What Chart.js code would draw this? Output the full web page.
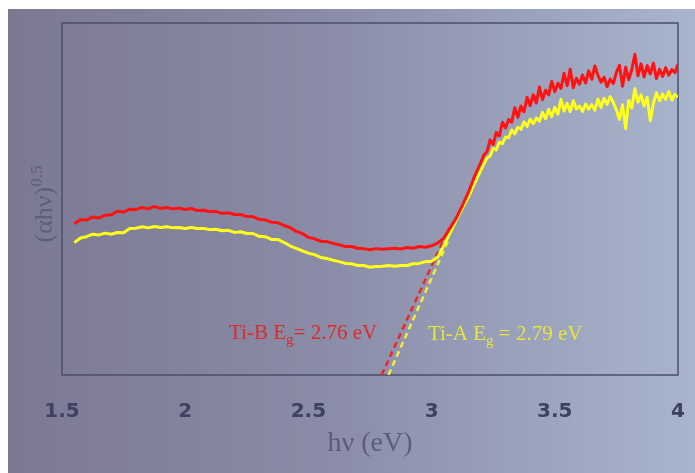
<!DOCTYPE html>
<html>
<head>
<meta charset="utf-8">
<script src="https://cdn.jsdelivr.net/npm/chart.js@4.4.1/dist/chart.umd.min.js"></script>
<style>
  html, body { margin: 0; padding: 0; background: #ffffff; }
  #quadro {
    position: absolute; left: 8px; top: 9px; width: 687px; height: 464px;
    background: linear-gradient(to right, #7b7892 0%, #8a8ba6 45%, #a8b5cd 100%);
  }
</style>
</head>
<body>
<div id="quadro"><canvas id="grafico"></canvas></div>
<script>
// energia (eV)
const energia = [
  1.55, 1.575, 1.6, 1.625, 1.65, 1.675, 1.7, 1.725, 1.75, 1.775,
  1.8, 1.825, 1.85, 1.875, 1.9, 1.925, 1.95, 1.975, 2, 2.025,
  2.05, 2.075, 2.1, 2.125, 2.15, 2.175, 2.2, 2.225, 2.25, 2.275,
  2.3, 2.325, 2.35, 2.375, 2.4, 2.425, 2.45, 2.475, 2.5, 2.525,
  2.55, 2.575, 2.6, 2.625, 2.65, 2.675, 2.7, 2.725, 2.75, 2.775,
  2.8, 2.825, 2.85, 2.875, 2.9, 2.925, 2.95, 2.975, 3, 3.025,
  3.05, 3.075, 3.1, 3.125, 3.15, 3.175, 3.2,
  3.2125, 3.225, 3.2375, 3.25, 3.2625, 3.275, 3.2875, 3.3,
  3.3125, 3.325, 3.3375, 3.35, 3.3625, 3.375, 3.3875, 3.4,
  3.4125, 3.425, 3.4375, 3.45, 3.4625, 3.475, 3.4875, 3.5,
  3.5125, 3.525, 3.5375, 3.55, 3.5625, 3.575, 3.5875, 3.6,
  3.6125, 3.625, 3.6375, 3.65, 3.6625, 3.675, 3.6875, 3.7,
  3.7125, 3.725, 3.7375, 3.75, 3.7625, 3.775, 3.7875, 3.8,
  3.8125, 3.825, 3.8375, 3.85, 3.8625, 3.875, 3.8875, 3.9,
  3.9125, 3.925, 3.9375, 3.95, 3.9625, 3.975, 3.9875, 4
];

// Ti-B (vermelho)
const tiB = [
  43.0, 44.2, 44.0, 44.9, 44.6, 45.4, 45.5, 46.5, 46.3, 47.1,
  47.0, 47.6, 47.2, 47.9, 47.3, 47.6, 47.2, 47.4, 47.0, 47.3,
  46.7, 46.8, 46.4, 46.5, 45.9, 46.1, 45.6, 45.6, 45.0, 45.0,
  44.2, 44.1, 43.4, 43.3, 42.5, 41.9, 40.8, 40.2, 39.1, 38.7,
  38.0, 37.9, 37.4, 37.0, 36.5, 36.5, 36.0, 35.9, 35.6, 35.9,
  35.7, 35.9, 36.0, 35.8, 36.2, 36.0, 36.5, 36.3, 36.7, 37.5,
  38.9, 41.8, 44.6, 48.2, 52.0, 56.6, 60.4,
  62.5, 63.5, 66.8, 65.5, 68.9, 67.9, 71.8, 70.2,
  72.6, 71.8, 75.9, 73.2, 76.4, 74.8, 78.9, 76.5,
  79.6, 77.3, 81.8, 78.2, 80.9, 79.6, 83.4, 80.5,
  82.9, 81.4, 85.7, 82.2, 86.9, 81.6, 84.3, 82.6,
  85.2, 83.0, 86.4, 84.0, 87.8, 85.1, 83.2, 84.6,
  81.9, 84.1, 82.8, 86.0, 88.0, 82.0, 87.4, 83.9,
  86.8, 91.1, 85.0, 88.4, 84.7, 87.9, 85.5, 88.6,
  84.2, 86.9, 84.8, 87.3, 85.2, 86.8, 85.9, 88.3
];

// Ti-A (amarelo)
const tiA = [
  37.6, 38.9, 39.3, 40.0, 39.8, 40.3, 40.0, 40.5, 40.4, 41.6,
  41.7, 42.1, 41.8, 42.2, 41.9, 42.1, 41.8, 41.9, 41.6, 41.9,
  41.6, 41.6, 41.3, 41.4, 41.0, 41.1, 40.5, 40.7, 40.2, 40.2,
  39.4, 39.3, 38.5, 38.5, 37.7, 36.7, 36.0, 35.3, 34.6, 34.2,
  33.4, 33.1, 32.6, 32.2, 31.7, 31.6, 31.1, 31.1, 30.6, 30.8,
  30.9, 31.1, 30.9, 31.1, 31.1, 31.6, 31.7, 32.2, 32.3, 33.5,
  36.9, 40.3, 44.0, 47.4, 50.6, 54.5, 58.2,
  60.0, 61.6, 62.2, 64.4, 63.9, 66.2, 65.7, 67.6,
  67.4, 69.6, 68.5, 70.4, 69.8, 71.9, 70.6, 72.7,
  71.4, 73.0, 72.1, 74.6, 72.8, 75.5, 73.4, 76.0,
  74.1, 78.3, 75.0, 77.2, 74.8, 77.9, 75.6, 76.4,
  74.9, 77.0, 75.5, 76.8, 75.2, 78.4, 76.0, 78.6,
  76.9, 79.1, 77.4, 75.3, 72.6, 76.8, 70.0, 78.0,
  75.9, 81.3, 77.5, 79.6, 76.4, 78.9, 72.2, 77.1,
  80.2, 77.9, 79.8, 78.3, 80.5, 78.1, 79.7, 78.9
];

// retas de extrapolacao (Tauc)
const retaBEnergia = [2.797, 3.049];
const retaBValor = [0, 38.4];
const retaAEnergia = [2.825, 3.069];
const retaAValor = [0, 38.4];

const ticksX = [1.5, 2, 2.5, 3, 3.5, 4];

const rotuloB = { texto: 'Ti-B E', sub: 'g', resto: '= 2.76 eV', x: 2.178, y: 10.2 };
const rotuloA = { texto: 'Ti-A E', sub: 'g', resto: ' = 2.79 eV', x: 2.985, y: 10.0 };

function juntar(xs, ys) {
    return xs.map((x, i) => ({ x: x, y: ys[i] }));
}

// moldura do grafico
const moldura = {
    id: 'moldura',
    beforeDatasetsDraw(chart) {
        const a = chart.chartArea;
        const ctx = chart.ctx;
        ctx.save();
        ctx.strokeStyle = '#4b4f6b';
        ctx.lineWidth = 1.5;
        ctx.strokeRect(a.left, a.top, a.right - a.left, a.bottom - a.top);
        ctx.restore();
    }
};

function textoComIndice(ctx, x, y, r, cor) {
    ctx.fillStyle = cor;
    ctx.textBaseline = 'alphabetic';
    ctx.textAlign = 'left';
    ctx.font = '21px "Liberation Serif", "Times New Roman", serif';
    ctx.fillText(r.texto, x, y);
    let w = ctx.measureText(r.texto).width;
    ctx.font = '15px "Liberation Serif", "Times New Roman", serif';
    ctx.fillText(r.sub, x + w, y + 5);
    w += ctx.measureText(r.sub).width;
    ctx.font = '21px "Liberation Serif", "Times New Roman", serif';
    ctx.fillText(r.resto, x + w, y);
}

const textos = {
    id: 'textos',
    afterDraw(chart) {
        const ctx = chart.ctx;
        const sx = chart.scales.x, sy = chart.scales.y;
        ctx.save();
        textoComIndice(ctx, sx.getPixelForValue(rotuloB.x), sy.getPixelForValue(rotuloB.y), rotuloB, '#dc2b2b');
        textoComIndice(ctx, sx.getPixelForValue(rotuloA.x), sy.getPixelForValue(rotuloA.y), rotuloA, '#e9e33e');

        // titulo do eixo y: (αhν)^0.5
        const cx = 35, cy = 195;
        ctx.translate(cx, cy);
        ctx.rotate(-Math.PI / 2);
        ctx.fillStyle = '#5e5f7e';
        ctx.font = '26px "Liberation Serif", "Times New Roman", serif';
        const principal = '(\u03b1h\u03bd)';
        const w1 = ctx.measureText(principal).width;
        ctx.font = '17px "Liberation Serif", "Times New Roman", serif';
        const w2 = ctx.measureText('0.5').width;
        const ini = -(w1 + w2) / 2;
        ctx.textBaseline = 'alphabetic';
        ctx.textAlign = 'left';
        ctx.font = '26px "Liberation Serif", "Times New Roman", serif';
        ctx.fillText(principal, ini, 9);
        ctx.font = '17px "Liberation Serif", "Times New Roman", serif';
        ctx.fillText('0.5', ini + w1, -1);
        ctx.restore();
    }
};

new Chart(document.getElementById('grafico'), {
    type: 'line',
    data: {
        datasets: [
            {
                label: 'Ti-B',
                data: juntar(energia, tiB),
                borderColor: '#ff1212',
                borderWidth: 3,
                pointRadius: 0,
                tension: 0,
                borderJoinStyle: 'round'
            },
            {
                label: 'Ti-A',
                data: juntar(energia, tiA),
                borderColor: '#ffff1c',
                borderWidth: 3,
                pointRadius: 0,
                tension: 0,
                borderJoinStyle: 'round'
            },
            {
                label: 'ajuste Ti-B',
                data: juntar(retaBEnergia, retaBValor),
                borderColor: '#e8282c',
                borderWidth: 2.5,
                borderDash: [6, 4],
                pointRadius: 0
            },
            {
                label: 'ajuste Ti-A',
                data: juntar(retaAEnergia, retaAValor),
                borderColor: '#f2ec3a',
                borderWidth: 2.5,
                borderDash: [6, 4],
                pointRadius: 0
            }
        ]
    },
    options: {
        responsive: true,
        maintainAspectRatio: false,
        animation: false,
        layout: { padding: { left: 54, right: 17, top: 14, bottom: 0 } },
        plugins: {
            legend: { display: false },
            tooltip: { enabled: false }
        },
        scales: {
            x: {
                type: 'linear',
                min: 1.5,
                max: 4,
                grid: { display: false, drawTicks: false },
                border: { display: false },
                afterBuildTicks: (s) => { s.ticks = ticksX.map(v => ({ value: v })); },
                afterFit: (s) => {
                    s.height = 98;
                    s.paddingLeft = 20;
                    s.paddingRight = 10;
                },
                ticks: {
                    padding: 25,
                    color: '#3e4260',
                    font: { family: 'DejaVu Sans', size: 20, weight: 'bold' },
                    callback: (v) => String(v)
                },
                title: {
                    display: true,
                    text: 'h\u03bd (eV)',
                    color: '#5a5c7a',
                    font: { family: 'Liberation Serif', size: 28 },
                    padding: { top: 0, bottom: 13 }
                }
            },
            y: {
                display: false,
                min: 0,
                max: 100
            }
        }
    },
    plugins: [moldura, textos]
});
</script>
</body>
</html>
